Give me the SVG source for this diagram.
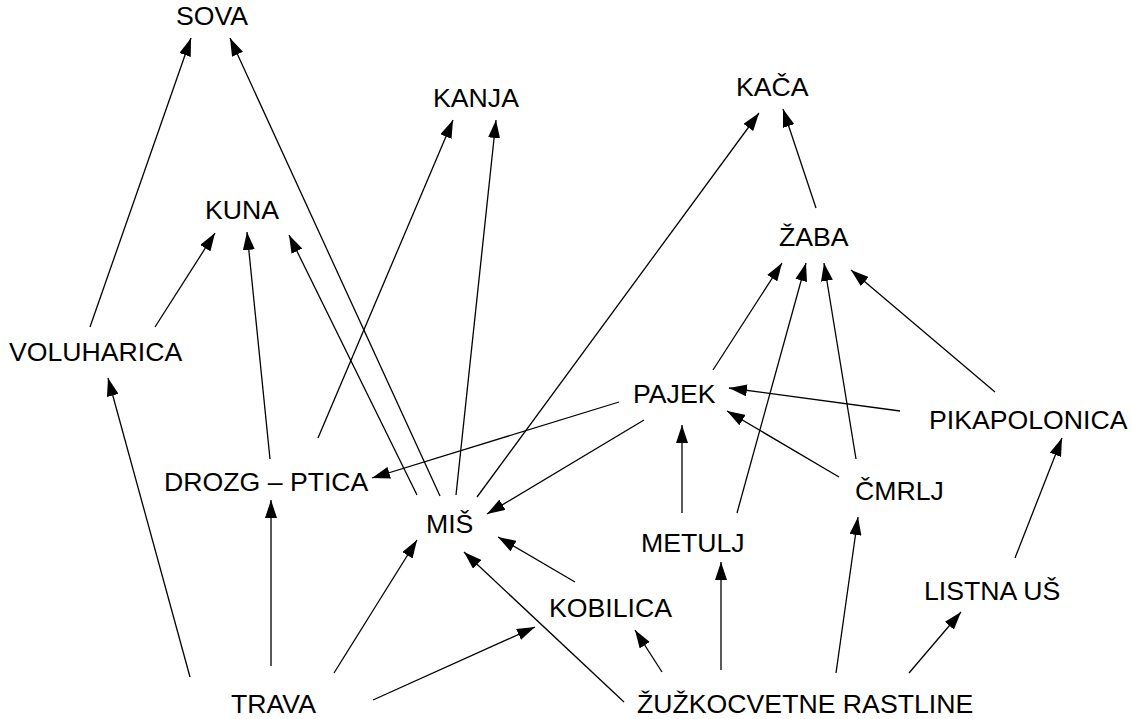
<svg xmlns="http://www.w3.org/2000/svg" width="1132" height="719" viewBox="0 0 1132 719">
<style>
text{font-family:"Liberation Sans",Arial,sans-serif;font-size:26.67px;fill:#000}
.e line{stroke:#000;stroke-width:1.3;marker-end:url(#ah)}
</style>
<defs>
<marker id="ah" markerUnits="userSpaceOnUse" markerWidth="18" markerHeight="12" viewBox="0 0 18 12" refX="18" refY="6" orient="auto">
<path d="M0,0 L18,6 L0,12 z" fill="#000"/>
</marker>
</defs>
<rect width="1132" height="719" fill="#fff"/>
<g class="e" id="connectors">
<line x1="90" y1="327" x2="191" y2="38"/>
<line x1="440" y1="496" x2="230" y2="38"/>
<line x1="318" y1="438" x2="453" y2="120"/>
<line x1="456" y1="495" x2="496" y2="120"/>
<line x1="155" y1="327" x2="215" y2="233"/>
<line x1="270" y1="459" x2="247" y2="232"/>
<line x1="417" y1="495" x2="289" y2="235"/>
<line x1="477" y1="497" x2="759" y2="113"/>
<line x1="816" y1="208" x2="783" y2="109"/>
<line x1="713" y1="370" x2="782" y2="263"/>
<line x1="737" y1="513" x2="806" y2="263"/>
<line x1="856" y1="459" x2="824" y2="263"/>
<line x1="995" y1="392" x2="851" y2="270"/>
<line x1="900" y1="411" x2="729" y2="388"/>
<line x1="839" y1="477" x2="727" y2="411"/>
<line x1="682" y1="513" x2="682" y2="425"/>
<line x1="619" y1="402" x2="372" y2="478"/>
<line x1="644" y1="420" x2="487" y2="514"/>
<line x1="1015" y1="558" x2="1062" y2="438"/>
<line x1="909" y1="673" x2="961" y2="612"/>
<line x1="836" y1="673" x2="858" y2="517"/>
<line x1="721" y1="670" x2="721" y2="562"/>
<line x1="662" y1="672" x2="635" y2="630"/>
<line x1="624" y1="702" x2="464" y2="552"/>
<line x1="190" y1="677" x2="108" y2="378"/>
<line x1="271" y1="666" x2="271" y2="500"/>
<line x1="334" y1="673" x2="417" y2="540"/>
<line x1="373" y1="700" x2="535" y2="627"/>
<line x1="575" y1="582" x2="498" y2="537"/>
</g>
<g id="sova"><text x="176" y="25">SOVA</text></g>
<g id="kanja"><text x="433" y="107">KANJA</text></g>
<g id="kuna"><text x="205" y="219">KUNA</text></g>
<g id="voluharica"><text x="9" y="361">VOLUHARICA</text></g>
<g id="drozg"><text x="164" y="491">DROZG – PTICA</text></g>
<g id="mis"><text x="426" y="533">MIŠ</text></g>
<g id="trava"><text x="231" y="713">TRAVA</text></g>
<g id="kaca"><text x="736" y="96">KAČA</text></g>
<g id="zaba"><text x="779" y="246">ŽABA</text></g>
<g id="pajek"><text x="633" y="403">PAJEK</text></g>
<g id="pikapolonica"><text x="929" y="429">PIKAPOLONICA</text></g>
<g id="cmrlj"><text x="855" y="500">ČMRLJ</text></g>
<g id="metulj"><text x="641" y="552">METULJ</text></g>
<g id="kobilica"><text x="549" y="617">KOBILICA</text></g>
<g id="listna"><text x="924" y="600">LISTNA UŠ</text></g>
<g id="zuzkocvetne"><text x="637" y="713">ŽUŽKOCVETNE RASTLINE</text></g>
</svg>
